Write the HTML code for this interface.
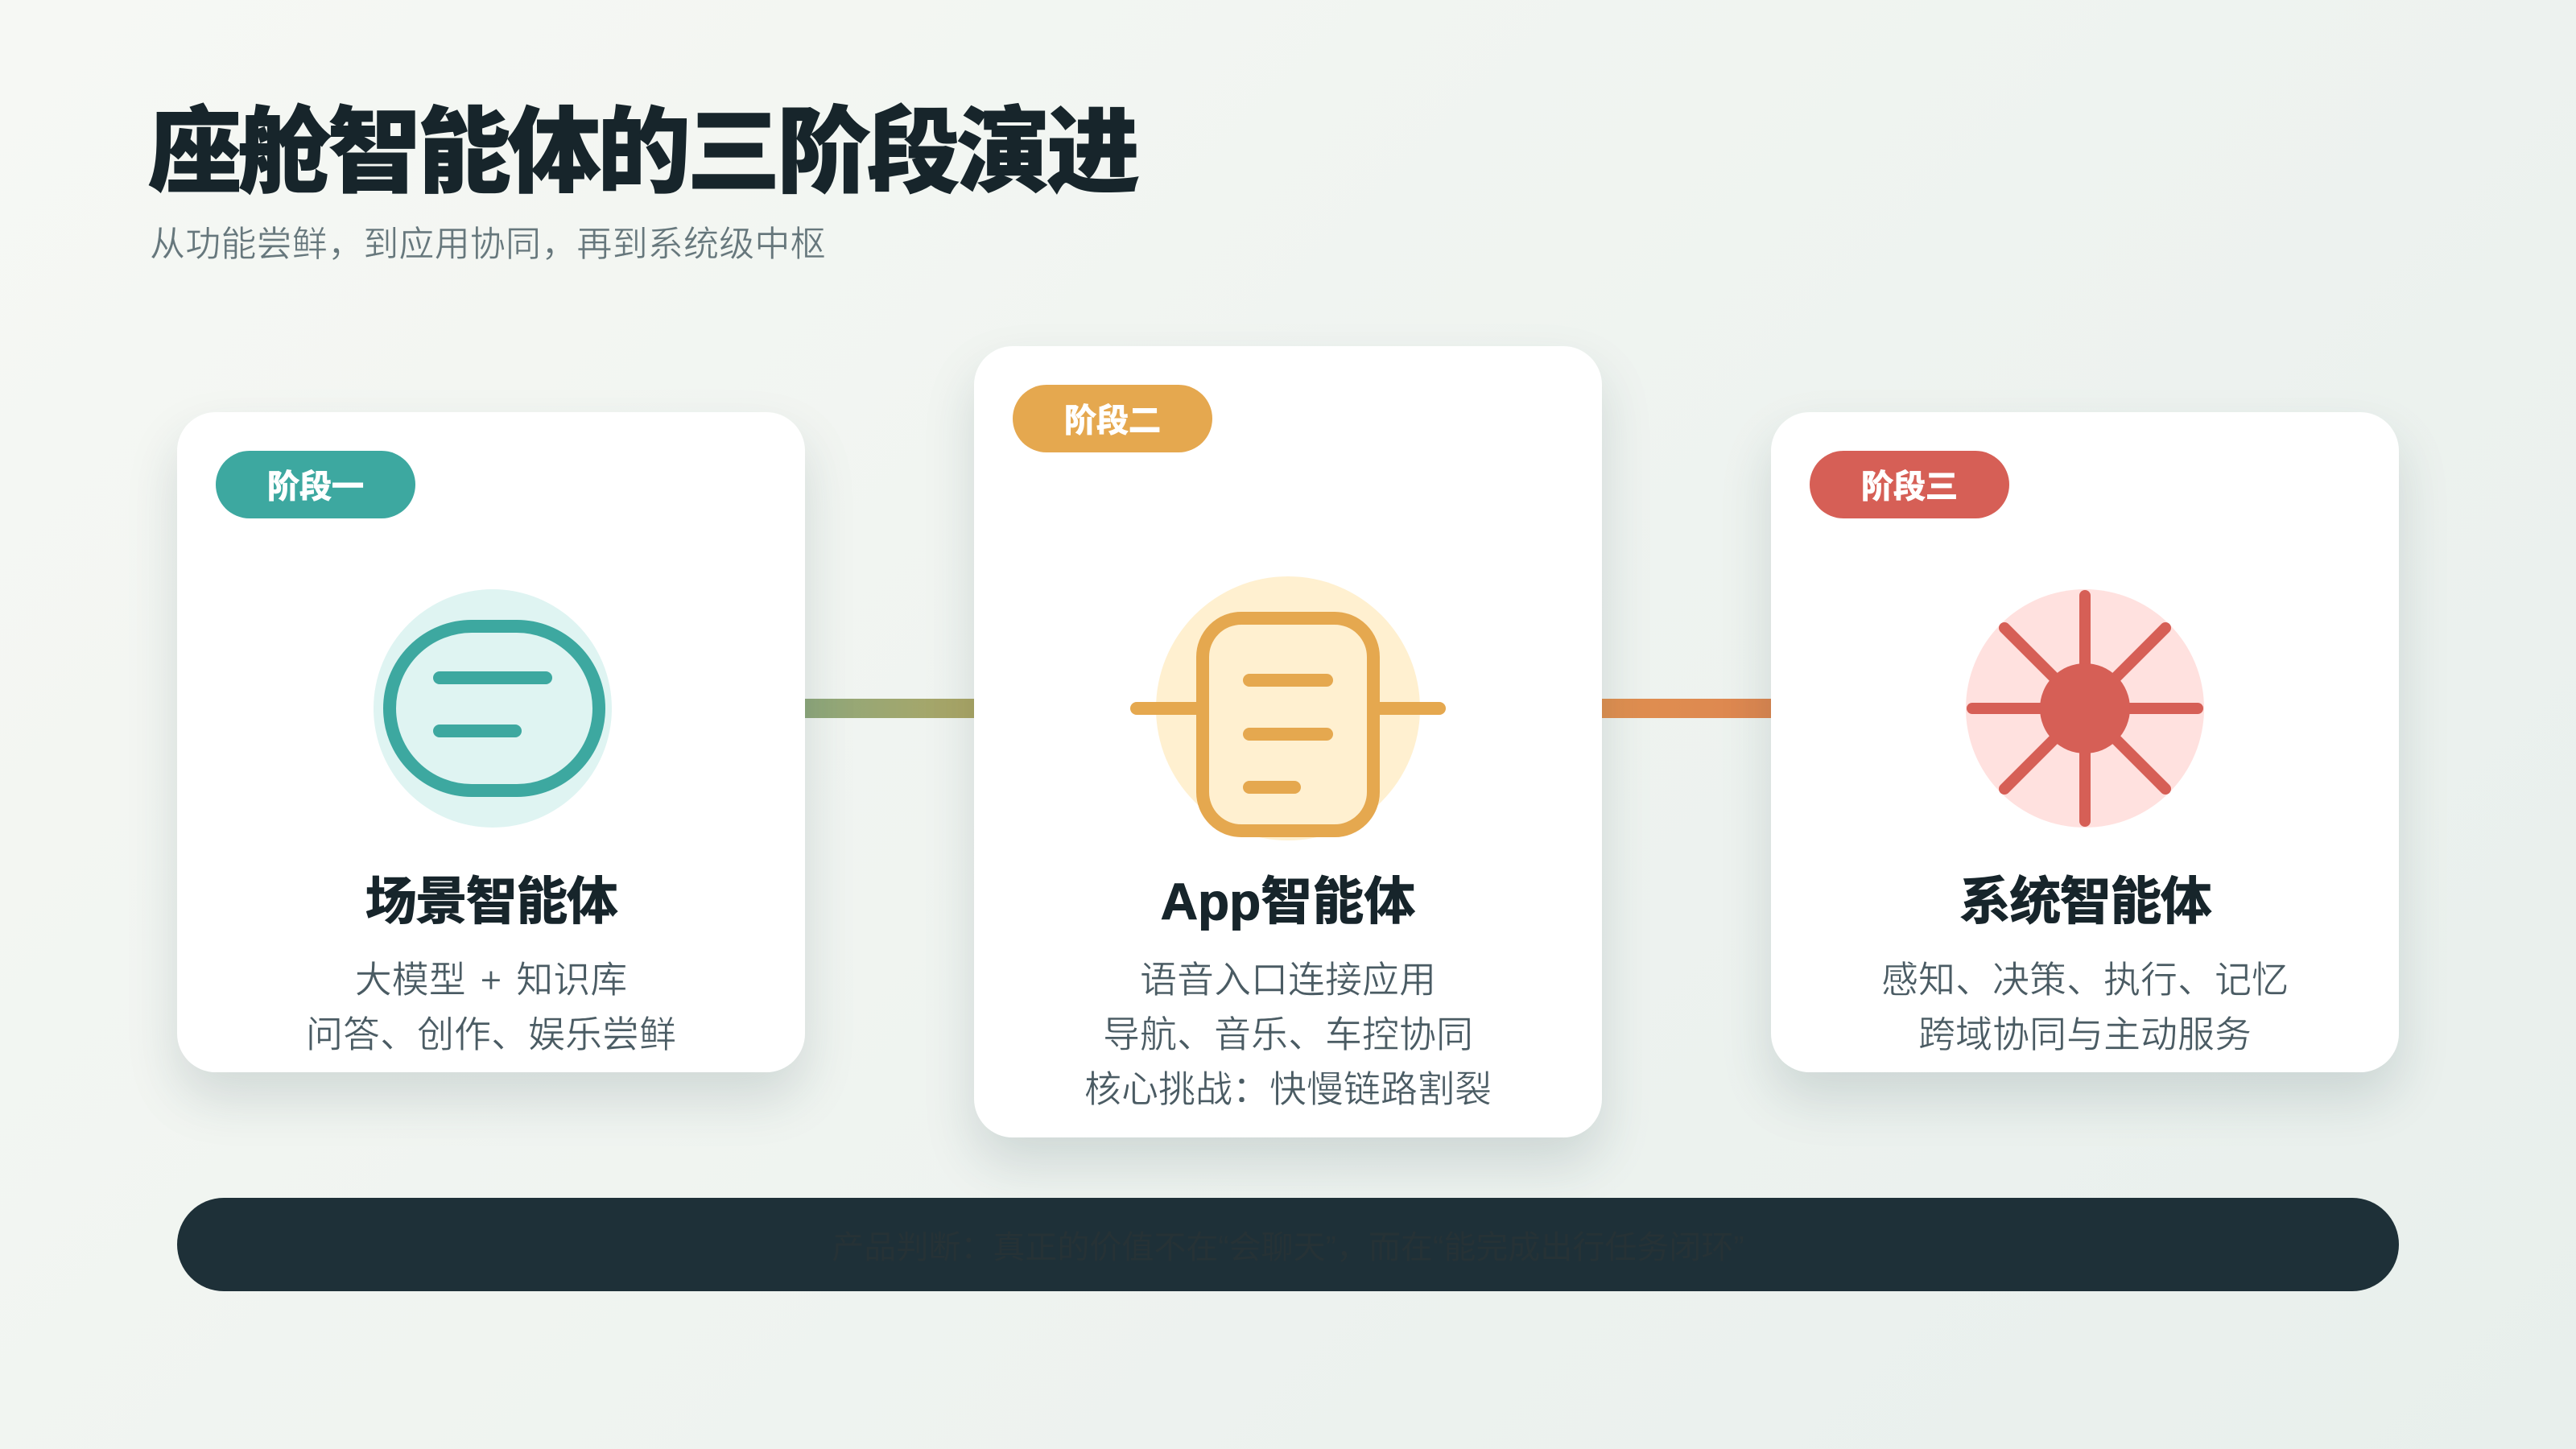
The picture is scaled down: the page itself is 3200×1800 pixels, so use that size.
<!DOCTYPE html>
<html lang="zh">
<head>
<meta charset="utf-8">
<title>座舱智能体的三阶段演进</title>
<style>
html,body{margin:0;padding:0;width:3200px;height:1800px;overflow:hidden}
body{position:relative;background:linear-gradient(135deg,#f6f8f4 0%,#e8efec 100%);font-family:"Liberation Sans","Noto Sans CJK SC",sans-serif}
.t{position:absolute;white-space:nowrap;text-align:center;line-height:1}
h1{position:absolute;margin:0;left:184px;top:131px;font-size:116px;line-height:116px;font-weight:900;letter-spacing:-4.4px;-webkit-text-stroke:1px #17252b;color:#17252b;white-space:nowrap}
.sub{left:186px;top:282px;font-size:44px;letter-spacing:.2px;color:#66777c;text-align:left;-webkit-text-stroke:.5px #f3f6f2}
.card{position:absolute;width:780px;background:#fff;border-radius:48px;box-shadow:0 32px 64px rgba(30,60,70,.15)}
.badge{position:absolute;width:248px;height:84px;border-radius:42px;color:#fff;font-size:40px;font-weight:700;line-height:90px;text-align:center;-webkit-text-stroke:1px #fff}
.title{width:780px;font-size:64px;font-weight:700;color:#17252b;-webkit-text-stroke:1px #17252b}
.tight{letter-spacing:-1.5px}
.body{width:780px;font-size:46px;color:#4a5b63;-webkit-text-stroke:.5px #fff}
.conn{position:absolute;top:868px;width:210px;height:24px}
.bar{position:absolute;left:220px;top:1488px;width:2760px;height:116px;border-radius:58px;background:#1e3038;color:#263236;font-size:40px;line-height:124px;text-align:center;white-space:nowrap}
svg{position:absolute;left:0;top:0}
</style>
</head>
<body>
<h1>座舱智能体的三阶段演进</h1>
<div class="t sub">从功能尝鲜，到应用协同，再到系统级中枢</div>

<div class="conn" style="left:1000px;background:linear-gradient(90deg,#8fa87c,#aca665)"></div>
<div class="conn" style="left:1990px;background:linear-gradient(90deg,#e09050,#dd8650)"></div>

<div class="card" style="left:220px;top:512px;height:820px"></div>
<div class="card" style="left:1210px;top:430px;height:983px"></div>
<div class="card" style="left:2200px;top:512px;height:820px"></div>

<div class="badge" style="left:268px;top:560px;background:#3da8a0">阶段一</div>
<div class="badge" style="left:1258px;top:478px;background:#e5a84f">阶段二</div>
<div class="badge" style="left:2248px;top:560px;background:#d65f56">阶段三</div>

<svg width="3200" height="1800" viewBox="0 0 3200 1800" fill="none" stroke-linecap="round">
  <circle cx="612" cy="880" r="148" fill="#dff4f2"/>
  <rect x="484" y="778" width="260" height="204" rx="102" ry="102" fill="#dff4f2" stroke="#3da8a0" stroke-width="16"/>
  <line x1="546" y1="842" x2="678" y2="842" stroke="#3da8a0" stroke-width="16"/>
  <line x1="546" y1="908" x2="640" y2="908" stroke="#3da8a0" stroke-width="16"/>

  <circle cx="1600" cy="880" r="164" fill="#fff0d0"/>
  <line x1="1412" y1="880" x2="1490" y2="880" stroke="#e5a84f" stroke-width="16"/>
  <line x1="1710" y1="880" x2="1788" y2="880" stroke="#e5a84f" stroke-width="16"/>
  <rect x="1494" y="768" width="212" height="264" rx="48" ry="48" fill="#fff0d0" stroke="#e5a84f" stroke-width="16"/>
  <line x1="1552" y1="845" x2="1648" y2="845" stroke="#e5a84f" stroke-width="16"/>
  <line x1="1552" y1="912" x2="1648" y2="912" stroke="#e5a84f" stroke-width="16"/>
  <line x1="1552" y1="978" x2="1608" y2="978" stroke="#e5a84f" stroke-width="16"/>

  <circle cx="2590" cy="880" r="148" fill="#ffe1df"/>
  <g stroke="#d65f56" stroke-width="14">
    <line x1="2590" y1="740" x2="2590" y2="1020"/>
    <line x1="2450" y1="880" x2="2730" y2="880"/>
    <line x1="2490" y1="780" x2="2690" y2="980"/>
    <line x1="2690" y1="780" x2="2490" y2="980"/>
  </g>
  <circle cx="2590" cy="880" r="56" fill="#d65f56"/>
</svg>

<div class="t title tight" style="left:220px;top:1088px">场景智能体</div>
<div class="t body" style="left:220px;top:1194px;word-spacing:5px">大模型 + 知识库</div>
<div class="t body" style="left:220px;top:1262px">问答、创作、娱乐尝鲜</div>

<div class="t title" style="left:1210px;top:1088px">App智能体</div>
<div class="t body" style="left:1210px;top:1194px">语音入口连接应用</div>
<div class="t body" style="left:1210px;top:1262px">导航、音乐、车控协同</div>
<div class="t body" style="left:1210px;top:1330px">核心挑战：快慢链路割裂</div>

<div class="t title tight" style="left:2200px;top:1088px">系统智能体</div>
<div class="t body" style="left:2200px;top:1194px">感知、决策、执行、记忆</div>
<div class="t body" style="left:2200px;top:1262px">跨域协同与主动服务</div>

<div class="bar">产品判断：真正的价值不在“会聊天”，而在“能完成出行任务闭环”</div>
</body>
</html>
